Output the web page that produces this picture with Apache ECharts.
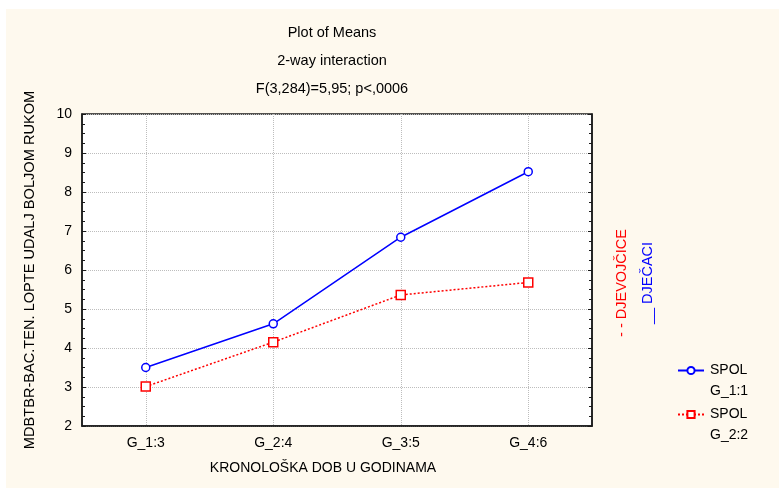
<!DOCTYPE html>
<html>
<head>
<meta charset="utf-8">
<script src="https://cdn.jsdelivr.net/npm/echarts@6/dist/echarts.min.js"></script>
<style>
html,body{margin:0;padding:0;background:#ffffff;}
#bg{position:absolute;left:6px;top:9px;width:773px;height:479px;background:#FEF9EE;}
#chart{position:absolute;left:0;top:0;width:779px;height:488px;}
</style>
</head>
<body>
<div id="bg"></div>
<div id="chart"></div>
<script>
const categories = ['G_1:3', 'G_2:4', 'G_3:5', 'G_4:6'];
const boysValues = [3.5, 4.62, 6.84, 8.52];
const girlsValues = [3.01, 4.15, 5.36, 5.68];
const seriesNames = ['SPOL\nG_1:1', 'SPOL\nG_2:2'];
const yTicks = {min: 2, max: 10, interval: 1};
const titleLines = ['Plot of Means', '2-way interaction', 'F(3,284)=5,95; p<,0006'];
const xName = 'KRONOLOŠKA DOB U GODINAMA';
const yName = 'MDBTBR-BAC.TEN. LOPTE UDALJ BOLJOM RUKOM';
const sideLabels = ['- - DJEVOJČICE', '__ DJEČACI'];

const FONT = 'Liberation Sans, Arial, sans-serif';
const chart = echarts.init(document.getElementById('chart'), null, {renderer: 'canvas'});

const legendText = {
  fontFamily: FONT, fontSize: 14, color: '#000', lineHeight: 21,
  padding: [0, 0, 0, 1]
};
const legendFormatter = (name) => ' \n' + name;

chart.setOption({
  backgroundColor: 'transparent',
  animation: false,
  title: {
    text: titleLines.join('\n'),
    left: 327, top: 14, textAlign: 'center',
    textStyle: {fontFamily: FONT, fontSize: 14.5, fontWeight: 'normal', color: '#000', lineHeight: 28}
  },
  grid: {
    left: 82, top: 114, width: 510, height: 312,
    show: true, backgroundColor: '#ffffff', borderColor: '#1a1a1a', borderWidth: 1.5
  },
  legend: [
    {
      data: [seriesNames[0]], orient: 'vertical', left: 672, top: 334,
      itemWidth: 26, itemHeight: 9, textStyle: legendText, selectedMode: false,
      formatter: legendFormatter
    },
    {
      data: [seriesNames[1]], orient: 'vertical', left: 672, top: 378,
      itemWidth: 26, itemHeight: 9, textStyle: legendText, selectedMode: false,
      formatter: legendFormatter
    }
  ],
  xAxis: {
    type: 'category', data: categories, boundaryGap: true,
    name: xName, nameLocation: 'middle', nameGap: 35,
    nameTextStyle: {fontFamily: FONT, fontSize: 14, color: '#000', padding: [0, 28, 0, 0]},
    axisLine: {show: true, lineStyle: {color: '#1a1a1a', width: 1.5}},
    axisTick: {show: false},
    axisLabel: {fontFamily: FONT, fontSize: 14, color: '#000', margin: 10},
    splitLine: {show: true, alignWithLabel: true, lineStyle: {color: '#bdbdbd', type: 'dotted', width: 1}}
  },
  yAxis: [
    {
      type: 'value', min: yTicks.min, max: yTicks.max, interval: yTicks.interval,
      name: yName, nameLocation: 'middle', nameGap: 45,
      nameTextStyle: {fontFamily: FONT, fontSize: 14.6, color: '#000'},
      axisLine: {show: true, lineStyle: {color: '#1a1a1a', width: 1.5}},
      axisTick: {show: true, inside: true, length: 4, lineStyle: {color: '#1a1a1a'}},
      minorTick: {show: true, splitNumber: 4, length: 3, lineStyle: {color: '#1a1a1a'}},
      axisLabel: {fontFamily: FONT, fontSize: 14, color: '#000', margin: 10},
      splitLine: {show: true, lineStyle: {color: '#bdbdbd', type: 'dotted', width: 1}}
    },
    {
      type: 'value', position: 'right', min: yTicks.min, max: yTicks.max, interval: yTicks.interval,
      axisLine: {show: true, lineStyle: {color: '#1a1a1a', width: 1.5}},
      axisTick: {show: true, inside: true, length: 4, lineStyle: {color: '#1a1a1a'}},
      minorTick: {show: true, splitNumber: 4, length: 3, lineStyle: {color: '#1a1a1a'}},
      axisLabel: {show: false},
      splitLine: {show: false}
    }
  ],
  graphic: [
    {
      type: 'text', x: 622, y: 283, rotation: Math.PI / 2,
      style: {text: sideLabels[0], fill: '#ff0000', font: '14.5px ' + FONT, align: 'center', verticalAlign: 'middle'}
    },
    {
      type: 'text', x: 648, y: 283, rotation: Math.PI / 2,
      style: {text: sideLabels[1], fill: '#0000ff', font: '14.5px ' + FONT, align: 'center', verticalAlign: 'middle'}
    }
  ],
  series: [
    {
      name: seriesNames[0], type: 'line', data: boysValues,
      symbol: 'circle', symbolSize: 8, showAllSymbol: true,
      lineStyle: {color: '#0000ff', width: 1.5, type: 'solid'},
      itemStyle: {color: '#ffffff', borderColor: '#0000ff', borderWidth: 1.5}
    },
    {
      name: seriesNames[1], type: 'line', data: girlsValues,
      symbol: 'rect', symbolSize: 9, showAllSymbol: true,
      lineStyle: {color: '#ff0000', width: 1.5, type: [2, 2]},
      itemStyle: {color: '#ffffff', borderColor: '#ff0000', borderWidth: 1.5}
    }
  ]
});
</script>
</body>
</html>
